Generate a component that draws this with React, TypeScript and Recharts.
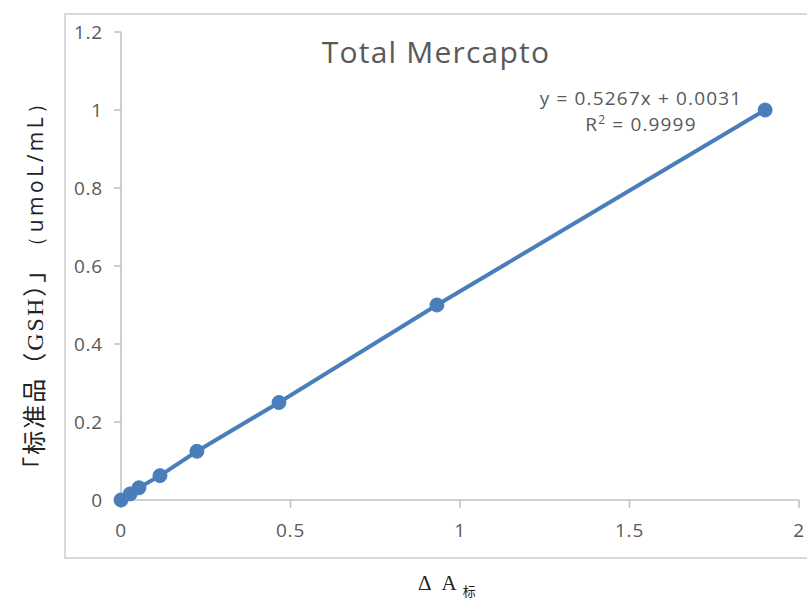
import React from 'react';
import { LineChart, Line, XAxis, YAxis } from 'recharts';

const absorbance = [0, 0.027, 0.053, 0.115, 0.224, 0.466, 0.932, 1.9];
const concentration = [0, 0.015625, 0.03125, 0.0625, 0.125, 0.25, 0.5, 1];
const xTicks = [0, 0.5, 1, 1.5, 2];
const yTicks = [0, 0.2, 0.4, 0.6, 0.8, 1, 1.2];

const data = absorbance.map((a, i) => ({ a, c: concentration[i] }));

const blue = '#4A7EBB';
const axisGray = '#BFBFBF';
const textGray = '#595959';
const sans = '"Open Sans", "Liberation Sans", sans-serif';
const serif = '"Liberation Serif", "Noto Sans CJK SC", serif';

const tickStyle = { fill: textGray, fontSize: 19, fontFamily: sans, letterSpacing: 0.8 };

const eqLine = {
  position: 'absolute' as const,
  left: 491,
  width: 300,
  height: 22,
  textAlign: 'center' as const,
  fontFamily: sans,
  fontSize: 19,
  letterSpacing: 1.15,
  color: textGray,
  lineHeight: '22px',
};

const App = () => {
  return (
    <div
      style={{
        position: 'absolute',
        left: 0,
        top: 0,
        width: 807,
        height: 601,
        background: '#fff',
        overflow: 'hidden',
      }}
    >
      {/* chart frame */}
      <div
        style={{
          position: 'absolute',
          left: 64,
          top: 13,
          width: 780,
          height: 542,
          border: '2px solid #D9D9D9',
        }}
      />

      <LineChart
        width={807}
        height={601}
        data={data}
        margin={{ top: 32, right: 8, bottom: 71, left: 0 }}
        style={{ position: 'absolute', left: 0, top: 0 }}
      >
        <XAxis
          type="number"
          dataKey="a"
          domain={[0, 2]}
          ticks={xTicks}
          height={30}
          stroke={axisGray}
          strokeWidth={1.5}
          tickSize={8}
          tickMargin={16}
          tick={tickStyle}
        />
        <YAxis
          type="number"
          dataKey="c"
          domain={[0, 1.2]}
          ticks={yTicks}
          width={121}
          stroke={axisGray}
          strokeWidth={1.5}
          tickSize={7}
          tickMargin={11}
          tick={tickStyle}
        />
        <Line
          type="linear"
          dataKey="c"
          stroke={blue}
          strokeWidth={4}
          dot={{ r: 7, fill: blue, stroke: blue, strokeWidth: 1 }}
          isAnimationActive={false}
        />
      </LineChart>

      {/* title */}
      <div
        style={{
          position: 'absolute',
          left: 236,
          top: 37,
          width: 400,
          textAlign: 'center',
          fontFamily: sans,
          fontSize: 30,
          letterSpacing: 1.2,
          color: textGray,
          lineHeight: '30px',
        }}
      >
        Total Mercapto
      </div>

      {/* trendline label */}
      <div style={{ ...eqLine, top: 87 }}>y = 0.5267x + 0.0031</div>
      <div style={{ ...eqLine, top: 113 }}>
        R<sup style={{ fontSize: 12, lineHeight: 0 }}>2</sup> = 0.9999
      </div>

      {/* y axis title */}
      <div
        style={{
          position: 'absolute',
          left: 35 - 210,
          top: 285 - 15,
          width: 420,
          height: 30,
          lineHeight: '30px',
          textAlign: 'center',
          transform: 'rotate(-90deg)',
          whiteSpace: 'nowrap',
          color: '#222',
        }}
      >
        <span style={{ fontFamily: serif, fontSize: 24, letterSpacing: 2 }}>「标准品（GSH）」</span>
        <span style={{ fontFamily: sans, fontSize: 21, letterSpacing: 3.5 }}>（umoL/mL）</span>
      </div>

      {/* x axis title */}
      <div
        style={{
          position: 'absolute',
          left: 418,
          top: 568,
          whiteSpace: 'nowrap',
          fontFamily: serif,
          fontSize: 21,
          color: '#222',
          lineHeight: '30px',
        }}
      >
        <span style={{ marginRight: 10 }}>Δ</span>
        <span style={{ marginRight: 6 }}>A</span>
        <span style={{ fontSize: 13, position: 'relative', top: 6 }}>标</span>
      </div>
    </div>
  );
};

export default App;
